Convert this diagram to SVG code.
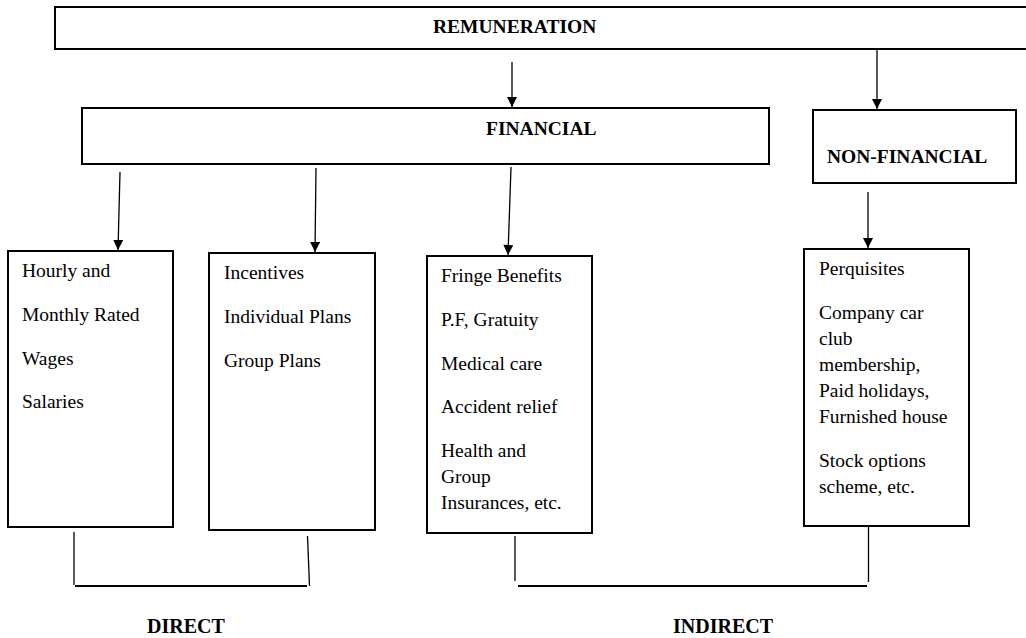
<svg xmlns="http://www.w3.org/2000/svg" width="1026" height="638" viewBox="0 0 1026 638">
<style>
.box{fill:#fff;stroke:#000;stroke-width:2}
.t{font-family:"Liberation Serif","Times New Roman",serif;font-size:19.5px;fill:#000}
.h{font-family:"Liberation Serif","Times New Roman",serif;font-size:19.5px;font-weight:bold;fill:#000}
.c{fill:none;stroke:#000;stroke-width:1.3}
.b{fill:none;stroke:#000;stroke-width:2}
</style>
<defs>
<marker id="arr" viewBox="0 0 10 10" refX="10" refY="5" markerWidth="11" markerHeight="10" markerUnits="userSpaceOnUse" orient="auto">
<path d="M0,0 L10,5 L0,10 z" fill="#000"/>
</marker>
</defs>
<rect width="1026" height="638" fill="#fff"/>
<g id="remuneration">
<rect class="box" x="55" y="7" width="990" height="42"/>
<text class="h" x="433" y="33">REMUNERATION</text>
</g>
<g id="financial">
<rect class="box" x="82" y="108" width="687" height="56"/>
<text class="h" x="486" y="135">FINANCIAL</text>
</g>
<g id="non-financial">
<rect class="box" x="813" y="110" width="203" height="73"/>
<text class="h" x="827" y="163">NON-FINANCIAL</text>
</g>
<g id="wages">
<rect class="box" x="8" y="251" width="165" height="276"/>
<text class="t" x="22" y="277">Hourly and</text>
<text class="t" x="22" y="321">Monthly Rated</text>
<text class="t" x="22" y="365">Wages</text>
<text class="t" x="22" y="408">Salaries</text>
</g>
<g id="incentives">
<rect class="box" x="209" y="253" width="166" height="277"/>
<text class="t" x="224" y="279">Incentives</text>
<text class="t" x="224" y="323">Individual Plans</text>
<text class="t" x="224" y="367">Group Plans</text>
</g>
<g id="fringe">
<rect class="box" x="427" y="256" width="165" height="277"/>
<text class="t" x="441" y="282">Fringe Benefits</text>
<text class="t" x="441" y="326">P.F, Gratuity</text>
<text class="t" x="441" y="370">Medical care</text>
<text class="t" x="441" y="413">Accident relief</text>
<text class="t" x="441" y="457">Health and</text>
<text class="t" x="441" y="483">Group</text>
<text class="t" x="441" y="509">Insurances, etc.</text>
</g>
<g id="perquisites">
<rect class="box" x="804" y="249" width="165" height="277"/>
<text class="t" x="819" y="275">Perquisites</text>
<text class="t" x="819" y="319">Company car</text>
<text class="t" x="819" y="345">club</text>
<text class="t" x="819" y="371">membership,</text>
<text class="t" x="819" y="397">Paid holidays,</text>
<text class="t" x="819" y="423">Furnished house</text>
<text class="t" x="819" y="467">Stock options</text>
<text class="t" x="819" y="493">scheme, etc.</text>
</g>
<g id="labels">
<text class="h" x="147" y="633" style="font-size:20px">DIRECT</text>
<text class="h" x="673" y="633" style="font-size:20px">INDIRECT</text>
</g>
<g id="connectors">
<line class="c" x1="512" y1="62" x2="512" y2="107" marker-end="url(#arr)"/>
<line class="c" x1="877" y1="50" x2="877" y2="109" marker-end="url(#arr)"/>
<line class="c" x1="120" y1="172" x2="118" y2="250" marker-end="url(#arr)"/>
<line class="c" x1="316" y1="168" x2="315" y2="252" marker-end="url(#arr)"/>
<line class="c" x1="511" y1="167" x2="508" y2="255" marker-end="url(#arr)"/>
<line class="c" x1="868" y1="192" x2="868" y2="248" marker-end="url(#arr)"/>
<line class="c" x1="74" y1="532" x2="74" y2="585"/>
<line class="c" x1="307.5" y1="536" x2="309.5" y2="586"/>
<line class="b" x1="75" y1="586" x2="307" y2="586"/>
<line class="c" x1="515" y1="536" x2="515" y2="581"/>
<line class="b" x1="518" y1="586" x2="867" y2="586"/>
<line class="c" x1="868.5" y1="526" x2="868.5" y2="582"/>
</g>
</svg>
